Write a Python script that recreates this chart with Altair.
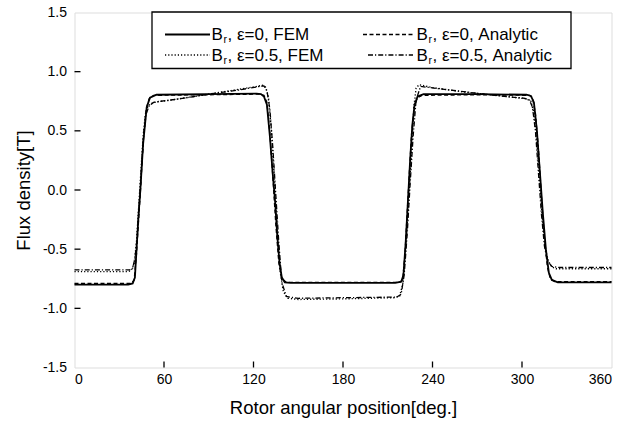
import altair as alt
import pandas as pd

# ---------------- data ----------------
ang_fem0 = [0, 36, 39, 40.5, 41.7, 43, 44, 46, 48.4, 50.6, 55, 90, 122, 125, 127, 129, 131, 133,
            134.5, 136, 137.5, 139, 141, 145, 180, 215, 219, 220.5, 222, 223.5, 225, 226.5, 228,
            230, 234, 270, 303, 306, 308, 310, 312, 314, 316, 318, 320, 324, 360]
val_fem0 = [-0.80, -0.80, -0.79, -0.74, -0.48, -0.20, -0.03, 0.39, 0.70, 0.78, 0.805, 0.81, 0.815,
            0.81, 0.79, 0.72, 0.45, 0.12, -0.10, -0.40, -0.62, -0.74, -0.78, -0.785, -0.785,
            -0.785, -0.775, -0.72, -0.45, -0.10, 0.25, 0.55, 0.72, 0.79, 0.81, 0.81, 0.805,
            0.795, 0.74, 0.50, 0.15, -0.20, -0.50, -0.70, -0.76, -0.78, -0.78]

ang_ana0 = [0, 38, 40, 41.5, 43, 44.5, 46, 48, 50, 53, 90, 124, 127, 129, 131, 133, 135, 137,
            139, 142, 180, 218, 220, 221.5, 223, 224.5, 226, 228, 230, 233, 270, 305, 307, 309,
            311, 313, 315, 317, 319, 322, 360]
val_ana0 = [-0.79, -0.79, -0.76, -0.55, -0.25, 0.05, 0.40, 0.68, 0.77, 0.80, 0.805, 0.81,
            0.80, 0.74, 0.48, 0.10, -0.30, -0.62, -0.75, -0.78, -0.78, -0.78, -0.76, -0.55,
            -0.20, 0.15, 0.48, 0.72, 0.78, 0.80, 0.805, 0.80, 0.78, 0.65, 0.35, -0.05, -0.40,
            -0.65, -0.75, -0.775, -0.775]

ang_fem5 = [0, 36, 38, 40, 41.5, 43, 44.5, 46, 47.5, 49, 51, 55, 65, 85, 105, 122, 126, 128,
            130, 132, 134, 136, 138, 140, 143, 150, 180, 215, 218, 220, 222, 224, 226, 227.5,
            229, 231, 240, 260, 283, 303, 306, 308, 310, 312, 314, 316, 318, 320, 323, 360]
val_fem5 = [-0.69, -0.69, -0.68, -0.62, -0.45, -0.15, 0.15, 0.45, 0.64, 0.70, 0.73, 0.745,
            0.76, 0.80, 0.84, 0.875, 0.885, 0.87, 0.79, 0.50, 0.10, -0.35, -0.70, -0.86,
            -0.915, -0.925, -0.92, -0.91, -0.895, -0.80, -0.50, -0.10, 0.35, 0.70, 0.86,
            0.89, 0.865, 0.83, 0.80, 0.77, 0.75, 0.65, 0.40, 0.05, -0.30, -0.52, -0.61,
            -0.65, -0.665, -0.665]

ang_ana5 = [0, 37, 39, 40.5, 42, 43.5, 45, 46.5, 48, 50, 53, 58, 70, 90, 110, 124, 127, 129,
            131, 133, 135, 137, 139, 142, 150, 180, 216, 219, 221, 223, 225, 227, 229, 232,
            245, 265, 285, 302, 305, 307, 309, 311, 313, 315, 317, 320, 325, 360]
val_ana5 = [-0.675, -0.675, -0.66, -0.58, -0.40, -0.10, 0.20, 0.48, 0.64, 0.71, 0.74, 0.75,
            0.77, 0.81, 0.845, 0.875, 0.88, 0.84, 0.68, 0.35, -0.05, -0.45, -0.78, -0.90,
            -0.915, -0.91, -0.905, -0.88, -0.72, -0.38, 0.05, 0.45, 0.76, 0.875, 0.855, 0.825,
            0.795, 0.775, 0.76, 0.70, 0.50, 0.15, -0.20, -0.47, -0.60, -0.645, -0.655, -0.655]

series_names = ["eps0_fem", "eps0_ana", "eps05_fem", "eps05_ana"]
legend_labels = [", \u03b5=0, FEM", ", \u03b5=0, Analytic",
                 ", \u03b5=0.5, FEM", ", \u03b5=0.5, Analytic"]
x_ticks = [0, 60, 120, 180, 240, 300, 360]
y_ticks = [-1.5, -1.0, -0.5, 0.0, 0.5, 1.0, 1.5]

# ---------------- build tables ----------------
rows = []
for name, angs, vals in zip(series_names,
                            [ang_fem0, ang_ana0, ang_fem5, ang_ana5],
                            [val_fem0, val_ana0, val_fem5, val_ana5]):
    for i, (a, v) in enumerate(zip(angs, vals)):
        rows.append({"series": name, "angle": a, "B": v, "order": i})
df = pd.DataFrame(rows)

W, H = 537, 355
FONT = "Liberation Sans"

xscale = alt.Scale(domain=[0, 360], nice=False, zero=False)
yscale = alt.Scale(domain=[-1.5, 1.5], nice=False, zero=False)

styles = {
    "eps0_fem": dict(strokeWidth=1.8),
    "eps0_ana": dict(strokeWidth=1.3, strokeDash=[4, 2.5]),
    "eps05_fem": dict(strokeWidth=1.4, strokeDash=[1.2, 2]),
    "eps05_ana": dict(strokeWidth=1.3, strokeDash=[5, 2, 1.2, 2]),
}

ylabel_expr = ("datum.value < 0 ? '-' + format(-datum.value, '.1f') "
               ": format(datum.value, '.1f')")

base = alt.Chart(df)
layers = []
for name in ["eps05_fem", "eps05_ana", "eps0_ana", "eps0_fem"]:
    layers.append(
        base.transform_filter(alt.datum.series == name)
        .mark_line(color="black", **styles[name])
        .encode(
            x=alt.X("angle:Q", scale=xscale,
                    axis=alt.Axis(values=x_ticks, ticks=False, domain=False, grid=False,
                                  labelFontSize=14, labelPadding=5, labelFont=FONT,
                                  labelColor="black",
                                  title="Rotor angular position[deg.]", titleFont=FONT,
                                  titleFontSize=18.5, titleFontWeight="normal",
                                  titleColor="black", titlePadding=12)),
            y=alt.Y("B:Q", scale=yscale,
                    axis=alt.Axis(values=y_ticks, labelExpr=ylabel_expr, ticks=False,
                                  domain=False, grid=False, labelFontSize=14,
                                  labelPadding=8, labelFont=FONT, labelColor="black",
                                  title="Flux density[T]", titleFont=FONT,
                                  titleFontSize=18.5, titleFontWeight="normal",
                                  titleColor="black", titleX=-45, titleY=H / 2,
                                  titleAlign="center", titleBaseline="alphabetic")),
            order="order:Q",
        )
    )

# inward tick marks
xt = pd.DataFrame({"t": x_ticks[1:-1]})
yt = pd.DataFrame({"t": y_ticks[1:-1]})
xtick_layer = alt.Chart(xt).mark_rule(color="black", strokeWidth=1.3).encode(
    x=alt.X("t:Q", scale=xscale), y=alt.value(H), y2=alt.value(H - 6))
ytick_layer = alt.Chart(yt).mark_rule(color="black", strokeWidth=1.3).encode(
    y=alt.Y("t:Q", scale=yscale), x=alt.value(0), x2=alt.value(6))

# legend (manual)
one = pd.DataFrame({"a": [0]})
leg_box = alt.Chart(one).mark_rect(
    fill="white", stroke="black", strokeWidth=1.3).encode(
    x=alt.value(77.5), x2=alt.value(496.5), y=alt.value(-0.5), y2=alt.value(56))

legend_geom = [
    (90.5, 135.5, 22.0, 137),
    (288.5, 338.5, 22.0, 342),
    (90.5, 135.5, 42.5, 137),
    (293.5, 338.5, 42.5, 342),
]
LF = 17
legend_layers = []
for name, label, (lx1, lx2, ly, tx) in zip(series_names, legend_labels, legend_geom):
    legend_layers.append(
        alt.Chart(one).mark_rule(color="black", **styles[name]).encode(
            x=alt.value(lx1), x2=alt.value(lx2), y=alt.value(ly), y2=alt.value(ly)))
    legend_layers.append(
        alt.Chart(one).mark_text(text="B", font=FONT, fontSize=LF, align="left",
                                 baseline="alphabetic", color="black").encode(
            x=alt.value(tx), y=alt.value(ly + 5.5)))
    legend_layers.append(
        alt.Chart(one).mark_text(text="r", font=FONT, fontSize=10.5, align="left",
                                 baseline="alphabetic", color="black").encode(
            x=alt.value(tx + 12), y=alt.value(ly + 8.5)))
    legend_layers.append(
        alt.Chart(one).mark_text(text=label, font=FONT, fontSize=LF, align="left",
                                 baseline="alphabetic", color="black").encode(
            x=alt.value(tx + 16), y=alt.value(ly + 5.5)))

chart = alt.layer(*layers, xtick_layer, ytick_layer, leg_box, *legend_layers).properties(
    width=W, height=H,
    autosize=alt.AutoSizeParams(type="none"),
    padding={"left": 74.5, "top": 12.5, "right": 19.5, "bottom": 57.5},
).configure_view(stroke="black", strokeWidth=2).configure(background="white")

chart.save("out.html", embed_options={"renderer": "svg", "actions": False})
